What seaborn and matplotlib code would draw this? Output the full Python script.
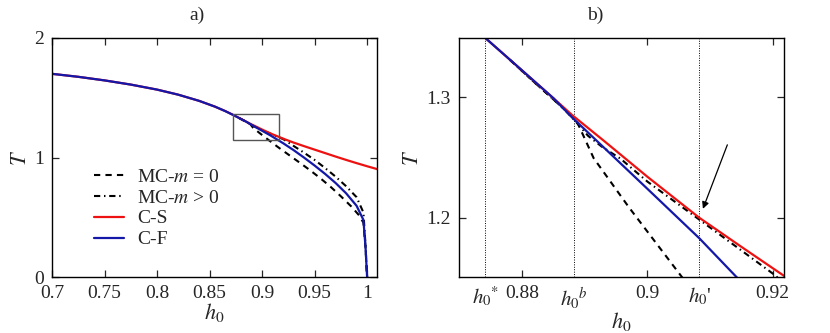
import numpy as np
import matplotlib
matplotlib.use("Agg")
import matplotlib.pyplot as plt
import seaborn as sns
from matplotlib.patches import Rectangle

# shared part of all curves (below the bifurcation)
h_common = [0.700, 0.725, 0.750, 0.775, 0.800, 0.820, 0.840, 0.855, 0.865, 0.8741, 0.880, 0.885]
T_common = [1.700, 1.675, 1.645, 1.610, 1.568, 1.526, 1.474, 1.426, 1.388, 1.349, 1.322, 1.299]

# C-S branch
h_cs = [0.888, 0.893, 0.900, 0.9083, 0.915, 0.9218, 0.930, 0.940, 0.950, 0.960, 0.970, 0.980, 0.990, 1.000, 1.010]
T_cs = [1.285, 1.264, 1.234, 1.200, 1.176, 1.152, 1.125, 1.095, 1.066, 1.037, 1.008, 0.980, 0.953, 0.927, 0.902]

# C-F branch
h_cf = [0.888, 0.900, 0.9083, 0.9144, 0.920, 0.930, 0.940, 0.950, 0.960, 0.970, 0.980, 0.990, 0.9965, 0.9985, 1.000]
T_cf = [1.283, 1.224, 1.183, 1.150, 1.120, 1.062, 0.999, 0.933, 0.863, 0.787, 0.701, 0.596, 0.478, 0.250, 0.000]

# MC m = 0
h_mc0 = [0.878, 0.882, 0.8865, 0.8888, 0.8914, 0.897, 0.9055, 0.915, 0.925, 0.935, 0.945, 0.955,
         0.965, 0.975, 0.985, 0.992, 0.9965, 0.9985, 1.000]
T_mc0 = [1.331, 1.312, 1.291, 1.279, 1.2495, 1.209, 1.151, 1.088, 1.025, 0.962, 0.898, 0.830,
         0.757, 0.676, 0.590, 0.520, 0.455, 0.250, 0.000]

# MC m > 0
h_mc1 = [0.878, 0.882, 0.8865, 0.8885, 0.8905, 0.8927, 0.8957, 0.900, 0.905, 0.910, 0.915, 0.9205,
         0.930, 0.940, 0.950, 0.960, 0.970, 0.980, 0.990, 0.9965, 0.9985, 1.000]
T_mc1 = [1.331, 1.312, 1.291, 1.280, 1.268, 1.259, 1.249, 1.230, 1.211, 1.192, 1.173, 1.152,
         1.097, 1.040, 0.980, 0.912, 0.840, 0.760, 0.668, 0.540, 0.270, 0.000]

# special points in panel b)
h_marks = [0.8741, 0.8882, 0.9083]
mark_labels = [r"$h_0{}^{*}$", r"$h_0{}^{b}$", r"$h_0$'"]

sns.set_style("ticks")
plt.rcParams['font.family'] = ['Liberation Serif', 'DejaVu Serif']
plt.rcParams['mathtext.fontset'] = 'stix'
plt.rcParams['font.size'] = 14

red = '#ee1111'
blue = '#1418a8'

fig = plt.figure(figsize=(8.3, 3.33), dpi=100)
ax1 = fig.add_axes([0.0627, 0.168, 0.3916, 0.718])
ax2 = fig.add_axes([0.553, 0.168, 0.3916, 0.718])


def draw_curves(ax, legend):
    sns.lineplot(x=h_mc0, y=T_mc0, ax=ax, color='black', lw=1.5, linestyle=(0, (3, 2.5)),
                 sort=False, label='MC-$m$ = 0' if legend else None)
    sns.lineplot(x=h_mc1, y=T_mc1, ax=ax, color='black', lw=1.5, linestyle=(0, (3, 1.8, 0.7, 1.8)),
                 sort=False, label='MC-$m$ > 0' if legend else None)
    sns.lineplot(x=h_common + h_cs, y=T_common + T_cs, ax=ax, color=red, lw=1.6,
                 sort=False, label='C-S' if legend else None)
    sns.lineplot(x=h_common + h_cf, y=T_common + T_cf, ax=ax, color=blue, lw=1.6,
                 sort=False, label='C-F' if legend else None)


# panel a)
draw_curves(ax1, True)
ax1.set_xlim(0.7, 1.0095)
ax1.set_ylim(0, 2)
ax1.set_xticks([0.7, 0.75, 0.8, 0.85, 0.9, 0.95, 1.0], labels=['0.7', '0.75', '0.8', '0.85', '0.9', '0.95', '1'])
ax1.set_yticks([0, 1, 2], labels=['0', '1', '2'])
ax1.add_patch(Rectangle((0.872, 1.148), 0.0445, 0.212, fill=False, edgecolor='#555555', lw=1.0, zorder=5))
ax1.legend(loc='upper left', bbox_to_anchor=(0.13, 0.456), frameon=False, borderpad=0,
           borderaxespad=0, handlelength=1.55, handletextpad=0.65, labelspacing=0.17, fontsize=14)
ax1.text(0.446, 1.096, 'a)', transform=ax1.transAxes, ha='center', va='center', fontsize=14)

# panel b)
draw_curves(ax2, False)
for hm in h_marks:
    ax2.axvline(hm, color='black', lw=0.7, linestyle=(0, (1, 1.5)), zorder=0)
ax2.set_xlim(0.8699, 0.9218)
ax2.set_ylim(1.151, 1.349)
ax2.set_xticks([0.88, 0.90, 0.92], labels=['0.88', '0.9', '0.92'])
ax2.set_xticks(h_marks, labels=mark_labels, minor=True)
ax2.set_yticks([1.2, 1.3], labels=['1.2', '1.3'])
ax2.tick_params(axis='x', which='minor', length=0, pad=6, labelsize=15)
ax2.annotate('', xy=(0.90885, 1.2075), xytext=(0.91275, 1.2605),
             arrowprops=dict(arrowstyle='-|>', color='black', lw=0.9, mutation_scale=10,
                             shrinkA=0, shrinkB=0))
ax2.text(0.418, 1.096, 'b)', transform=ax2.transAxes, ha='center', va='center', fontsize=14)

for ax in (ax1, ax2):
    ax.tick_params(axis='both', which='major', direction='in', length=5, width=0.9,
                   top=True, right=True, pad=6, labelsize=14)
    ax.tick_params(axis='x', which='minor', direction='in', top=False)
    for s in ax.spines.values():
        s.set_linewidth(1.0)
        s.set_color('black')
    ax.set_xlabel(r'$h_0$', fontsize=16, labelpad=-1)
    ax.set_ylabel(r'$T$', fontsize=16, labelpad=2)

fig.savefig('out.png', dpi=100)
